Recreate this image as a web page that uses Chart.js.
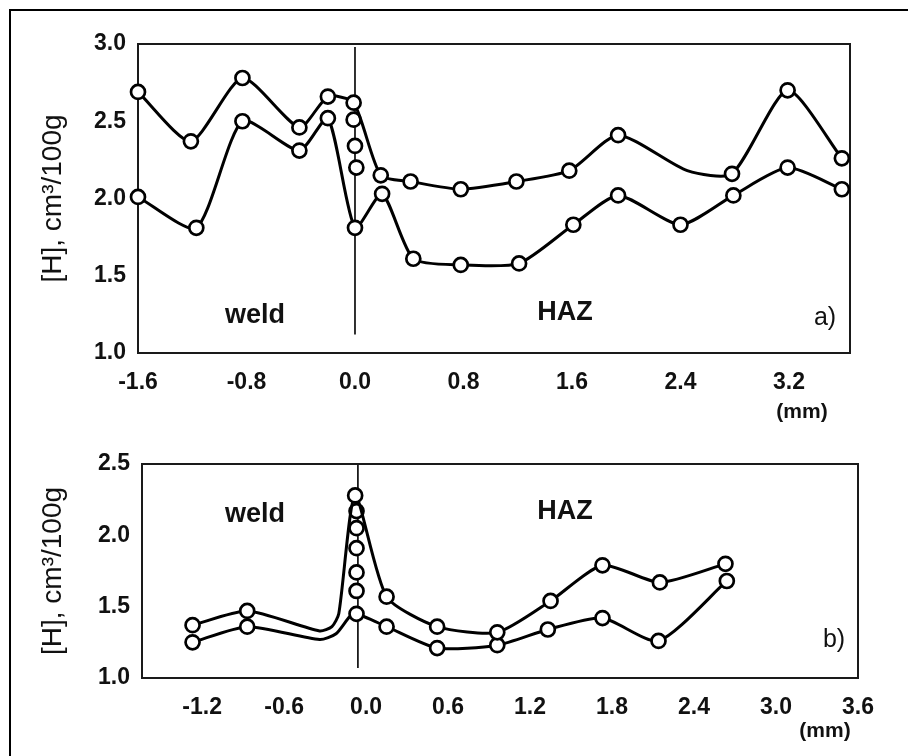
<!DOCTYPE html>
<html><head><meta charset="utf-8">
<script src="https://cdn.jsdelivr.net/npm/chart.js@4.4.0/dist/chart.umd.min.js"></script>
<style>
html,body{margin:0;padding:0;background:#fff;overflow:hidden;width:908px;height:756px}
#frame{position:absolute;left:9px;top:9px;width:1000px;height:1000px;border:2px solid #000;box-sizing:border-box}
.wrap{position:absolute;left:0;width:908px}
#wa{top:0;height:440px}
#wb{top:430px;height:326px}
</style></head><body>
<div id="frame"></div>
<div class="wrap" id="wa"><canvas id="ca" width="908" height="440"></canvas></div>
<div class="wrap" id="wb"><canvas id="cb" width="908" height="326"></canvas></div>
<script>
// ---------- Panel a) ----------
const aXTicks = [-1.6, -0.8, 0.0, 0.8, 1.6, 2.4, 3.2];
const aYTicks = [1.0, 1.5, 2.0, 2.5, 3.0];
const aUpperX = [-1.6, -1.21, -0.83, -0.41, -0.2, -0.01, 0.19, 0.41, 0.78, 1.19, 1.58, 1.94, 2.45, 2.78, 3.19, 3.59];
const aUpperY = [2.69, 2.37, 2.78, 2.46, 2.66, 2.62, 2.15, 2.11, 2.06, 2.11, 2.18, 2.41, 2.18, 2.16, 2.70, 2.26];
const aUpperMarked = [1, 1, 1, 1, 1, 1, 1, 1, 1, 1, 1, 1, 0, 1, 1, 1];
const aLowerX = [-1.6, -1.17, -0.83, -0.41, -0.2, 0.0, 0.2, 0.43, 0.78, 1.21, 1.61, 1.94, 2.40, 2.79, 3.19, 3.59];
const aLowerY = [2.01, 1.81, 2.50, 2.31, 2.52, 1.81, 2.03, 1.61, 1.57, 1.58, 1.83, 2.02, 1.83, 2.02, 2.20, 2.06];
const aLowerMarked = [1, 1, 1, 1, 1, 1, 1, 1, 1, 1, 1, 1, 1, 1, 1, 1];
const aFusionX = [-0.01, 0.0, 0.01];
const aFusionY = [2.51, 2.34, 2.20];

// ---------- Panel b) ----------
const bXTicks = [-1.2, -0.6, 0.0, 0.6, 1.2, 1.8, 2.4, 3.0, 3.6];
const bYTicks = [1.0, 1.5, 2.0, 2.5];
const bUpperX = [-1.27, -0.87, -0.34, -0.25, -0.20, -0.08, 0.15, 0.52, 0.96, 1.35, 1.73, 2.15, 2.63];
const bUpperY = [1.37, 1.47, 1.33, 1.36, 1.45, 2.28, 1.57, 1.36, 1.32, 1.54, 1.79, 1.67, 1.80];
const bUpperMarked = [1, 1, 0, 0, 0, 1, 1, 1, 1, 1, 1, 1, 1];
const bLowerX = [-1.27, -0.87, -0.34, -0.22, -0.12, -0.07, 0.15, 0.52, 0.96, 1.33, 1.73, 2.14, 2.64];
const bLowerY = [1.25, 1.36, 1.27, 1.31, 1.43, 1.45, 1.36, 1.21, 1.23, 1.34, 1.42, 1.26, 1.68];
const bLowerMarked = [1, 1, 0, 0, 0, 1, 1, 1, 1, 1, 1, 1, 1];
const bFusionX = [-0.07, -0.07, -0.07, -0.07, -0.07];
const bFusionY = [2.17, 2.05, 1.91, 1.74, 1.61];

const FONT = '"Liberation Sans", Arial, Helvetica, sans-serif';
const Y_TITLE = '[H], cm\u00B3/100g';

function pts(xs, ys) { return xs.map((x, i) => ({x: x, y: ys[i]})); }

function lineDs(xs, ys, marked) {
  return {
    data: pts(xs, ys), showLine: true, borderColor: '#000', borderWidth: 3,
    tension: 0.22, clip: false,
    pointRadius: c => marked[c.dataIndex] ? 7 : 0,
    pointBackgroundColor: '#fff', pointBorderColor: '#000', pointBorderWidth: 2.7
  };
}
function markDs(xs, ys) {
  return {
    data: pts(xs, ys), showLine: false, clip: false, pointRadius: 7,
    pointBackgroundColor: '#fff', pointBorderColor: '#000', pointBorderWidth: 2.7
  };
}

const framePlugin = {
  id: 'frameDeco',
  beforeDatasetsDraw(chart, args, o) {
    const {ctx, chartArea: a, scales: {x, y}} = chart;
    ctx.save();
    ctx.strokeStyle = '#1a1a1a'; ctx.lineWidth = 2;
    ctx.strokeRect(a.left, a.top, a.right - a.left, a.bottom - a.top);
    ctx.lineWidth = 1.8;
    const px = x.getPixelForValue(o.vx);
    ctx.beginPath();
    ctx.moveTo(px, y.getPixelForValue(o.vy0));
    ctx.lineTo(px, y.getPixelForValue(o.vy1));
    ctx.stroke();
    ctx.restore();
  },
  afterDraw(chart, args, o) {
    const ctx = chart.ctx;
    ctx.save();
    ctx.fillStyle = '#111';
    ctx.textBaseline = 'middle';
    o.labels.forEach(l => {
      ctx.font = l.font;
      ctx.textAlign = 'center';
      ctx.fillText(l.text, l.px, l.py);
    });
    ctx.restore();
  }
};

function makeChart(id, cfg) {
  const W = 908, H = cfg.height;
  return new Chart(document.getElementById(id), {
    type: 'line',
    data: {datasets: cfg.datasets},
    plugins: [framePlugin],
    options: {
      responsive: false, animation: false, devicePixelRatio: 1,
      layout: {padding: {left: 0, top: cfg.area.top, right: W - cfg.area.right, bottom: 0}},
      plugins: {
        legend: {display: false}, tooltip: {enabled: false},
        frameDeco: {vx: cfg.vx, vy0: cfg.vy0, vy1: cfg.vy1, labels: cfg.labels}
      },
      scales: {
        x: {
          type: 'linear', min: cfg.xmin, max: cfg.xmax,
          grid: {display: false, drawTicks: false}, border: {display: false},
          afterBuildTicks: s => { s.ticks = cfg.xticks.map(v => ({value: v})); },
          afterFit: s => { s.height = H - cfg.area.bottom; },
          ticks: {color: '#111', padding: 16, maxRotation: 0, autoSkip: false,
                  font: {family: FONT, size: 23, weight: 'bold'},
                  callback: v => Number(v).toFixed(1)}
        },
        y: {
          type: 'linear', min: cfg.ymin, max: cfg.ymax,
          grid: {display: false, drawTicks: false}, border: {display: false},
          afterBuildTicks: s => { s.ticks = cfg.yticks.map(v => ({value: v})); },
          afterFit: s => { s.width = cfg.area.left; },
          ticks: {color: '#111', padding: 12, autoSkip: false,
                  font: {family: FONT, size: 23, weight: 'bold'},
                  callback: v => Number(v).toFixed(1)},
          title: {display: true, text: Y_TITLE, color: '#111',
                  font: {family: FONT, size: 28}, padding: {top: 36, bottom: 0}}
        }
      }
    }
  });
}

makeChart('ca', {
  height: 440,
  area: {left: 138, right: 850, top: 44, bottom: 353},
  xmin: -1.6, xmax: 3.65, ymin: 1.0, ymax: 3.0,
  xticks: aXTicks, yticks: aYTicks,
  vx: 0.0, vy0: 2.98, vy1: 1.12,
  datasets: [
    lineDs(aUpperX, aUpperY, aUpperMarked),
    lineDs(aLowerX, aLowerY, aLowerMarked),
    markDs(aFusionX, aFusionY)
  ],
  labels: [
    {text: 'weld', px: 255, py: 316, font: 'bold 27px ' + FONT},
    {text: 'HAZ', px: 565, py: 313, font: 'bold 27px ' + FONT},
    {text: 'a)', px: 825, py: 318, font: '25px ' + FONT},
    {text: '(mm)', px: 802, py: 412, font: 'bold 21px ' + FONT}
  ]
});

makeChart('cb', {
  height: 326,
  area: {left: 142, right: 858, top: 34, bottom: 248},
  xmin: -1.64, xmax: 3.6, ymin: 1.0, ymax: 2.5,
  xticks: bXTicks, yticks: bYTicks,
  vx: -0.06, vy0: 2.5, vy1: 1.07,
  datasets: [
    lineDs(bUpperX, bUpperY, bUpperMarked),
    lineDs(bLowerX, bLowerY, bLowerMarked),
    markDs(bFusionX, bFusionY)
  ],
  labels: [
    {text: 'weld', px: 255, py: 85, font: 'bold 27px ' + FONT},
    {text: 'HAZ', px: 565, py: 82, font: 'bold 27px ' + FONT},
    {text: 'b)', px: 834, py: 210, font: '25px ' + FONT},
    {text: '(mm)', px: 825, py: 301, font: 'bold 21px ' + FONT}
  ]
});
</script>
</body></html>
